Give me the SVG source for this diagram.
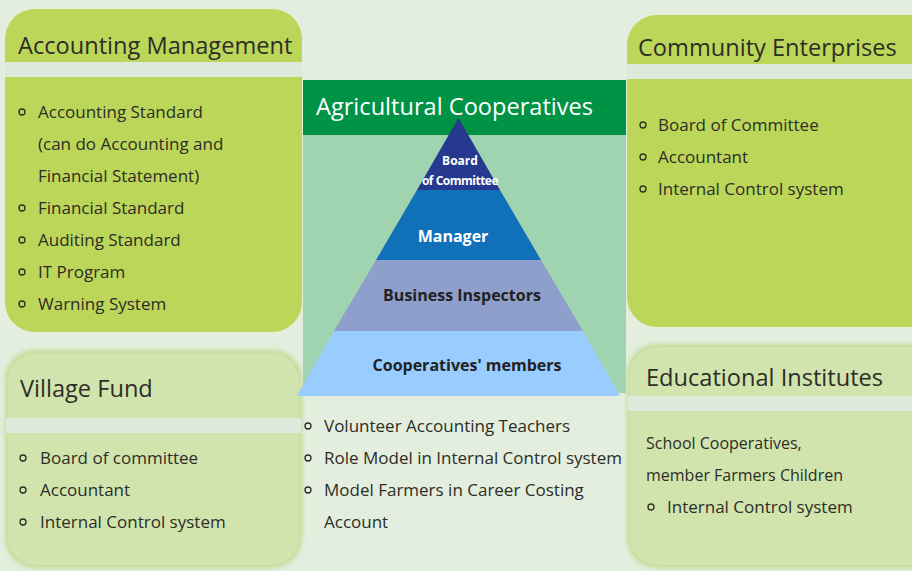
<svg xmlns="http://www.w3.org/2000/svg" width="912" height="571" viewBox="0 0 912 571">
<defs>
<style>
.t{font-family:"Open Sans","Liberation Sans",sans-serif;fill:#2d2d26}
.h{font-size:23.6px}
.b{font-size:17px}
.p{font-family:"Open Sans","Liberation Sans",sans-serif;font-weight:bold;text-anchor:middle}
.dot{fill:none;stroke:#2d2d26;stroke-width:1.3}
.strip{fill:#dbeada}
</style>
<filter id="glow" x="-5%" y="-5%" width="110%" height="110%">
<feGaussianBlur stdDeviation="2.5"/>
</filter>
</defs>
<rect width="912" height="571" fill="#e3eedf"/>

<g id="accounting-management">
<rect x="5" y="9" width="297" height="323" rx="30" fill="#bcd65a"/>
<rect class="strip" x="5" y="62" width="297" height="15"/>
<text class="t h" x="18" y="54">Accounting Management</text>
<circle class="dot" cx="22" cy="112" r="3"/>
<text class="t b" x="38" y="118">Accounting Standard</text>
<text class="t b" x="38" y="150">(can do Accounting and</text>
<text class="t b" x="38" y="182">Financial Statement)</text>
<circle class="dot" cx="22" cy="208" r="3"/>
<text class="t b" x="38" y="214">Financial Standard</text>
<circle class="dot" cx="22" cy="240" r="3"/>
<text class="t b" x="38" y="246">Auditing Standard</text>
<circle class="dot" cx="22" cy="272" r="3"/>
<text class="t b" x="38" y="278">IT Program</text>
<circle class="dot" cx="22" cy="304" r="3"/>
<text class="t b" x="38" y="310">Warning System</text>
</g>

<g id="community-enterprises">
<rect x="627" y="15" width="320" height="312" rx="30" fill="#bcd65a"/>
<rect class="strip" x="627" y="64" width="285" height="15"/>
<text class="t h" x="638" y="56">Community Enterprises</text>
<circle class="dot" cx="643" cy="125" r="3"/>
<text class="t b" x="658" y="131">Board of Committee</text>
<circle class="dot" cx="643" cy="157" r="3"/>
<text class="t b" x="658" y="163">Accountant</text>
<circle class="dot" cx="643" cy="189" r="3"/>
<text class="t b" x="658" y="195">Internal Control system</text>
</g>

<g id="village-fund">
<rect x="5" y="350" width="297" height="218" rx="30" fill="#c3dc95" filter="url(#glow)"/>
<rect x="8" y="353" width="291" height="212" rx="28" fill="#d1e4ae"/>
<rect class="strip" x="6" y="418" width="295" height="15"/>
<text class="t h" x="20" y="397">Village Fund</text>
<circle class="dot" cx="23" cy="458" r="3"/>
<text class="t b" x="40" y="464">Board of committee</text>
<circle class="dot" cx="23" cy="490" r="3"/>
<text class="t b" x="40" y="496">Accountant</text>
<circle class="dot" cx="23" cy="522" r="3"/>
<text class="t b" x="40" y="528">Internal Control system</text>
</g>

<g id="educational-institutes">
<rect x="627" y="344" width="320" height="224" rx="30" fill="#c3dc95" filter="url(#glow)"/>
<rect x="630" y="347" width="314" height="218" rx="28" fill="#d1e4ae"/>
<rect class="strip" x="628" y="396" width="284" height="15"/>
<text class="t h" x="646" y="386">Educational Institutes</text>
<text class="t" x="646" y="449" font-size="16">School Cooperatives,</text>
<text class="t" x="646" y="481" font-size="16">member Farmers Children</text>
<circle class="dot" cx="651" cy="507" r="3"/>
<text class="t b" x="667" y="513">Internal Control system</text>
</g>

<g id="agricultural-cooperatives">
<rect x="303" y="80" width="323" height="55" fill="#009245"/>
<rect x="303" y="135" width="323" height="258" fill="#a0d3b0"/>
<text x="316" y="115" font-family="Open Sans, Liberation Sans, sans-serif" font-size="23.6" fill="#ffffff">Agricultural Cooperatives</text>
</g>

<g id="pyramid">
<g id="board-of-committee">
<polygon points="458.5,118 417,190 500,190" fill="#253a8e"/>
<text class="p" x="460" y="165" font-size="12" fill="#ffffff">Board</text>
<text class="p" x="460" y="185" font-size="12" fill="#ffffff" letter-spacing="-0.5">of Committee</text>
</g>
<g id="manager">
<polygon points="417,190 500,190 541,260 376,260" fill="#1070b8"/>
<text class="p" x="453" y="242" font-size="16" fill="#ffffff">Manager</text>
</g>
<g id="business-inspectors">
<polygon points="376,260 541,260 583,331 334,331" fill="#8e9fcb"/>
<text class="p" x="462" y="301" font-size="16" fill="#222222">Business Inspectors</text>
</g>
<g id="cooperatives-members">
<polygon points="334,331 583,331 620,396 297,396" fill="#99ccff"/>
<text class="p" x="467" y="371" font-size="16" fill="#222222">Cooperatives' members</text>
</g>
</g>

<g id="cooperative-support">
<circle class="dot" cx="308" cy="426" r="3"/>
<text class="t b" x="324" y="432">Volunteer Accounting Teachers</text>
<circle class="dot" cx="308" cy="458" r="3"/>
<text class="t b" x="324" y="464">Role Model in Internal Control system</text>
<circle class="dot" cx="308" cy="490" r="3"/>
<text class="t b" x="324" y="496">Model Farmers in Career Costing</text>
<text class="t b" x="324" y="528">Account</text>
</g>

<g id="connectors"></g>
</svg>
